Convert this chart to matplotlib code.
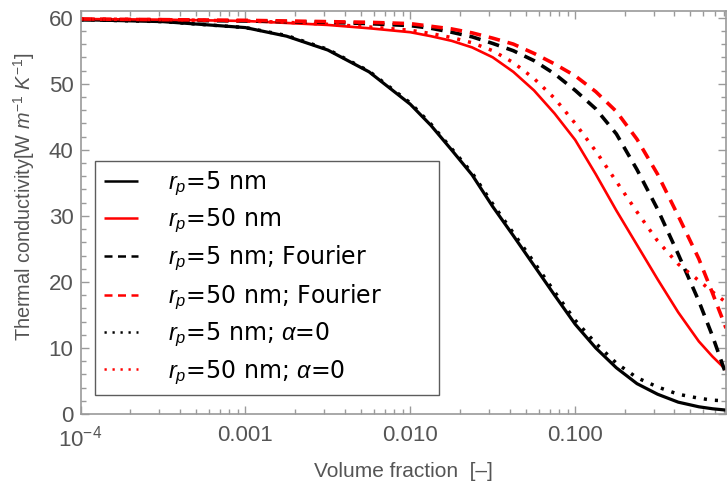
import matplotlib
matplotlib.use("Agg")
import matplotlib.pyplot as plt
from matplotlib.ticker import FixedLocator, LogLocator, NullFormatter, MultipleLocator
import numpy as np

# ---- data ----
log_phi = [-4, -3.5, -3, -2.75, -2.5, -2.25, -2, -1.875, -1.75, -1.625, -1.5, -1.375,
           -1.25, -1.125, -1, -0.875, -0.75, -0.625, -0.5, -0.375, -0.25, -0.167, -0.085]
volume_fraction = [10 ** v for v in log_phi]

k_r5 = [59.7, 59.4, 58.5, 57.2, 55.1, 51.8, 46.9, 43.7, 40.0, 36.2, 31.4, 27.0,
        22.5, 18.0, 13.6, 10.0, 7.0, 4.6, 3.0, 1.8, 1.1, 0.8, 0.6]
k_r50 = [59.8, 59.7, 59.5, 59.2, 58.9, 58.4, 57.8, 57.2, 56.5, 55.5, 54.0, 51.8,
         49.0, 45.5, 41.5, 36.3, 30.8, 25.6, 20.4, 15.4, 11.0, 8.7, 6.7]
k_r5_fourier = [59.7, 59.6, 59.5, 59.4, 59.3, 59.1, 58.8, 58.4, 57.8, 57.1, 56.1, 55.0,
                53.5, 51.5, 49.0, 46.2, 42.4, 37.0, 31.0, 24.2, 17.1, 11.8, 6.0]
k_r50_fourier = [59.8, 59.7, 59.6, 59.5, 59.4, 59.3, 59.1, 58.7, 58.3, 57.7, 56.9, 56.0,
                 54.6, 53.0, 51.2, 48.8, 45.8, 41.6, 36.3, 30.0, 23.5, 18.3, 13.0]
k_r5_alpha0 = [59.7, 59.4, 58.5, 57.3, 55.2, 51.9, 47.1, 43.9, 40.2, 36.5, 31.8, 27.4,
               23.0, 18.5, 14.2, 10.7, 7.7, 5.5, 4.1, 3.0, 2.4, 2.1, 2.0]
k_r50_alpha0 = [59.8, 59.7, 59.5, 59.3, 59.0, 58.6, 58.1, 57.6, 57.0, 56.2, 55.0, 53.2,
                50.8, 47.8, 44.0, 39.8, 35.2, 30.6, 26.2, 22.7, 20.2, 18.5, 16.9]

series_labels = [r"$r_p$=5 nm", r"$r_p$=50 nm", r"$r_p$=5 nm; Fourier",
                 r"$r_p$=50 nm; Fourier", r"$r_p$=5 nm; $\alpha$=0", r"$r_p$=50 nm; $\alpha$=0"]
xtick_values = [1e-4, 1e-3, 1e-2, 1e-1]
xtick_labels = [r"$10^{-4}$", "0.001", "0.010", "0.100"]
ytick_values = [0, 10, 20, 30, 40, 50, 60]

# ---- style ----
plt.rcParams["mathtext.fontset"] = "custom"
plt.rcParams["mathtext.rm"] = "Liberation Sans"
plt.rcParams["mathtext.it"] = "Liberation Sans:italic"
plt.rcParams["mathtext.bf"] = "Liberation Sans:bold"
plt.rcParams["font.family"] = ["Liberation Sans", "DejaVu Sans"]

gray_text = "#555555"
gray_axis = "#9a9a9a"

fig = plt.figure(figsize=(7.28, 4.90), dpi=100)
ax = fig.add_axes([0.1106, 0.155, 0.8867, 0.8224])

series = [
    (k_r5, "black", "-"),
    (k_r50, "red", "-"),
    (k_r5_fourier, "black", (0, (3.2, 2.2))),
    (k_r50_fourier, "red", (0, (3.2, 2.2))),
    (k_r5_alpha0, "black", (0, (0.9, 2.3))),
    (k_r50_alpha0, "red", (0, (0.9, 2.3))),
]
lws = [2.3, 1.9, 2.6, 2.6, 2.5, 2.5]
for (vals, c, ls), lab, w in zip(series, series_labels, lws):
    ax.plot(volume_fraction, vals, color=c, linestyle=ls, linewidth=w, label=lab,
            dash_capstyle="butt", solid_capstyle="butt")

ax.set_xscale("log")
ax.set_xlim(1e-4, 10 ** -0.085)
ax.set_ylim(0, 61)

ax.xaxis.set_major_locator(FixedLocator(xtick_values))
ax.set_xticks(xtick_values)
ax.set_xticklabels(xtick_labels)
ax.xaxis.set_minor_locator(LogLocator(base=10, subs=np.arange(2, 10)))
ax.xaxis.set_minor_formatter(NullFormatter())
ax.set_yticks(ytick_values)
ax.yaxis.set_minor_locator(MultipleLocator(2))

narrow = ["Liberation Sans Narrow", "Liberation Sans", "DejaVu Sans"]
for lab in ax.get_xticklabels() + ax.get_yticklabels():
    lab.set_family(narrow)
    lab.set_fontsize(16)
    lab.set_color(gray_text)

ax.tick_params(which="both", direction="in", top=True, right=True, color=gray_axis, width=1)
ax.tick_params(which="major", length=6)
ax.tick_params(which="minor", length=3.5)
ax.tick_params(axis="x", which="major", pad=8)
ax.tick_params(axis="y", which="major", pad=5)
for s in ax.spines.values():
    s.set_color(gray_axis)
    s.set_linewidth(1.2)

ax.set_xlabel("Volume fraction  [\u2013]", fontsize=15, color=gray_text, family=narrow, labelpad=8)
ax.set_ylabel(r"Thermal conductivity[W $m^{-1}$ $K^{-1}$]", fontsize=14.3, color=gray_text,
              family=narrow)
ax.yaxis.set_label_coords(-0.067, 0.54)

leg = ax.legend(loc="lower left", bbox_to_anchor=(0.0225, 0.047, 0.5325, 0.587), mode="expand",
                prop={"family": ["DejaVu Sans"], "size": 17},
                frameon=True, fancybox=False, edgecolor="#333333",
                handlelength=1.45, handletextpad=1.3, labelspacing=0.38, borderpad=0.36,
                borderaxespad=0)
leg.get_frame().set_linewidth(1.0)
for line in leg.get_lines():
    line.set_linewidth(1.8)

fig.savefig("out.png", dpi=100)
